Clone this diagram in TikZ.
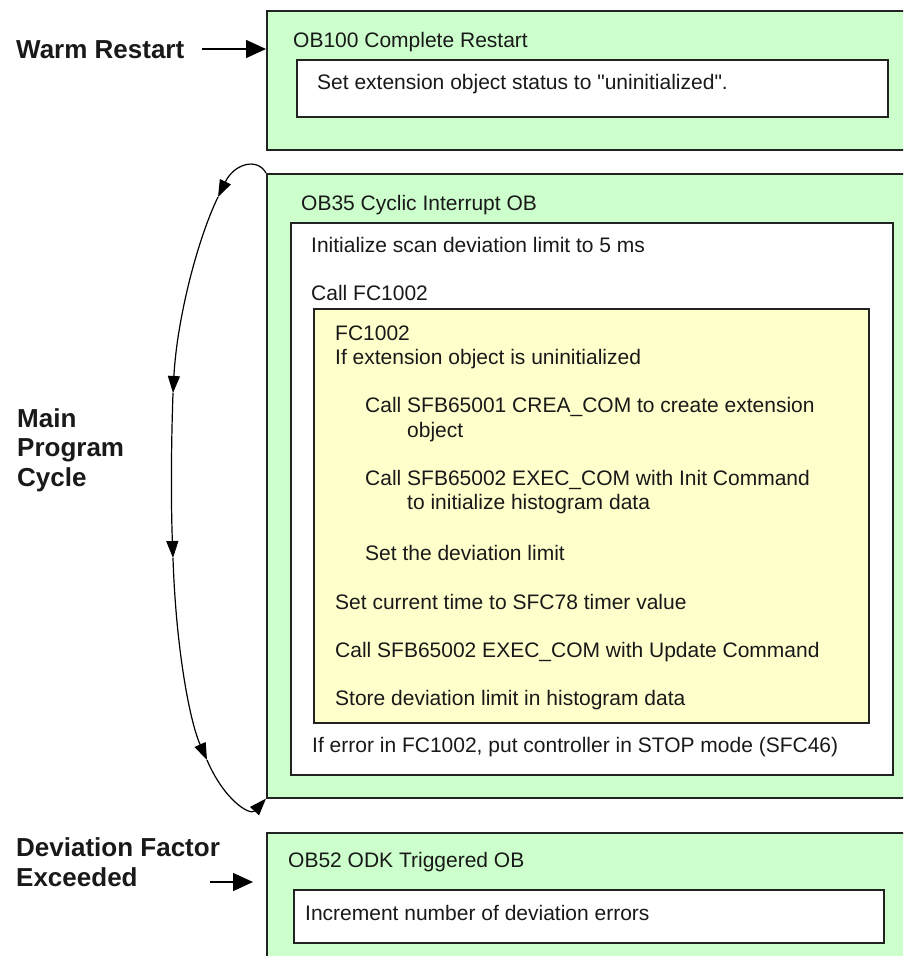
\documentclass[tikz,border=0pt]{standalone}
\usepackage{fontspec}
\setmainfont{Liberation Sans}
\usetikzlibrary{arrows.meta}
\definecolor{obgreen}{HTML}{CCFFCC}
\definecolor{fcyellow}{HTML}{FFFFCC}
\definecolor{edge}{HTML}{222222}
\tikzset{
  frame/.style={draw=edge, line width=1.6pt, inner sep=0pt, anchor=north west},
  greenbox/.style={frame, fill=obgreen},
  whitebox/.style={frame, fill=white},
  yellowbox/.style={frame, fill=fcyellow},
  txt/.style={inner sep=0pt, anchor=base west, font=\fontsize{21}{25}\selectfont, text=black!90},
  lbl/.style={inner sep=0pt, anchor=base west, font=\fontsize{26}{29}\selectfont\bfseries, text=black!90},
  arr/.style={line width=1.5pt, -{Triangle[length=20pt,width=18pt]}},
  looparr/.style={line width=1.2pt, -{Triangle[length=17pt,width=12pt]}}
}
\begin{document}
\begin{tikzpicture}[x=1pt,y=-1pt]
\useasboundingbox (0,0) rectangle (903,956);
\clip (0,0) rectangle (903,956);

% OB100
\node[greenbox, minimum width=660pt, minimum height=139pt] (ob100) at (266,10) {};
\node[whitebox, minimum width=591pt, minimum height=57pt] (ob100in) at (296,59) {};
\node[txt] (t100) at (293,47.5) {OB100 Complete Restart};
\node[txt] (t100a) at (317,89.5) {Set extension object status to \textquotedbl uninitialized\textquotedbl.};

% OB35
\node[greenbox, minimum width=660pt, minimum height=624pt] (ob35) at (266,173) {};
\node[whitebox, minimum width=602pt, minimum height=552pt] (ob35in) at (290,222) {};
\node[yellowbox, minimum width=555pt, minimum height=414pt] (fc) at (313,308) {};
\node[txt] (t35) at (301,210.5) {OB35 Cyclic Interrupt OB};
\node[txt] (t35a) at (311,252.5) {Initialize scan deviation limit to 5 ms};
\node[txt] (t35b) at (311,300.5) {Call FC1002};
\node[txt] (fca) at (335,340.5) {FC1002};
\node[txt] (fcb) at (335,364.5) {If extension object is uninitialized};
\node[txt] (fcc) at (365,412.5) {Call SFB65001 CREA\_COM to create extension};
\node[txt] (fcd) at (407,437.5) {object};
\node[txt] (fce) at (365,485.5) {Call SFB65002 EXEC\_COM with Init Command};
\node[txt] (fcf) at (407,509.5) {to initialize histogram data};
\node[txt] (fcg) at (365,560.5) {Set the deviation limit};
\node[txt] (fch) at (335,609.5) {Set current time to SFC78 timer value};
\node[txt] (fci) at (335,657.5) {Call SFB65002 EXEC\_COM with Update Command};
\node[txt] (fcj) at (335,705.5) {Store deviation limit in histogram data};
\node[txt] (t35c) at (312,752.5) {If error in FC1002, put controller in STOP mode (SFC46)};

% OB52
\node[greenbox, minimum width=660pt, minimum height=150pt] (ob52) at (266,832) {};
\node[whitebox, minimum width=590pt, minimum height=53pt] (ob52in) at (293,889) {};
\node[txt] (t52) at (288,867) {OB52 ODK Triggered OB};
\node[txt] (t52a) at (305,920.5) {Increment number of deviation errors};

% event labels
\node[lbl] (warm) at (16,58) {Warm Restart};
\node[lbl] (mainA) at (17,427) {Main};
\node[lbl] (mainB) at (17,456) {Program};
\node[lbl] (mainC) at (17,486) {Cycle};
\node[lbl] (devA) at (16,856) {Deviation Factor};
\node[lbl] (devB) at (16,886) {Exceeded};

% event arrows
\coordinate (warmtail) at (202,49);
\draw[arr] (warmtail) -- (warmtail -| ob100.west);
\coordinate (devtail) at (210,882);
\coordinate (devhead) at (253,882);
\draw[arr] (devtail) -- (devhead);

% main program cycle loop
\coordinate (c1) at (218,197);
\coordinate (c2) at (173,393);
\coordinate (c3) at (173,558);
\coordinate (c4) at (207,760);
\draw[looparr] (ob35.north west) .. controls (257,157) and (234,164) .. (c1);
\draw[looparr] (c1) .. controls (198,238) and (177,318) .. (c2);
\draw[looparr] (c2) .. controls (171,450) and (171,505) .. (c3);
\draw[looparr] (c3) .. controls (176,650) and (190,722) .. (c4);
\draw[looparr] (c4) .. controls (224,800) and (250,816) .. (ob35.south west);
\end{tikzpicture}
\end{document}
